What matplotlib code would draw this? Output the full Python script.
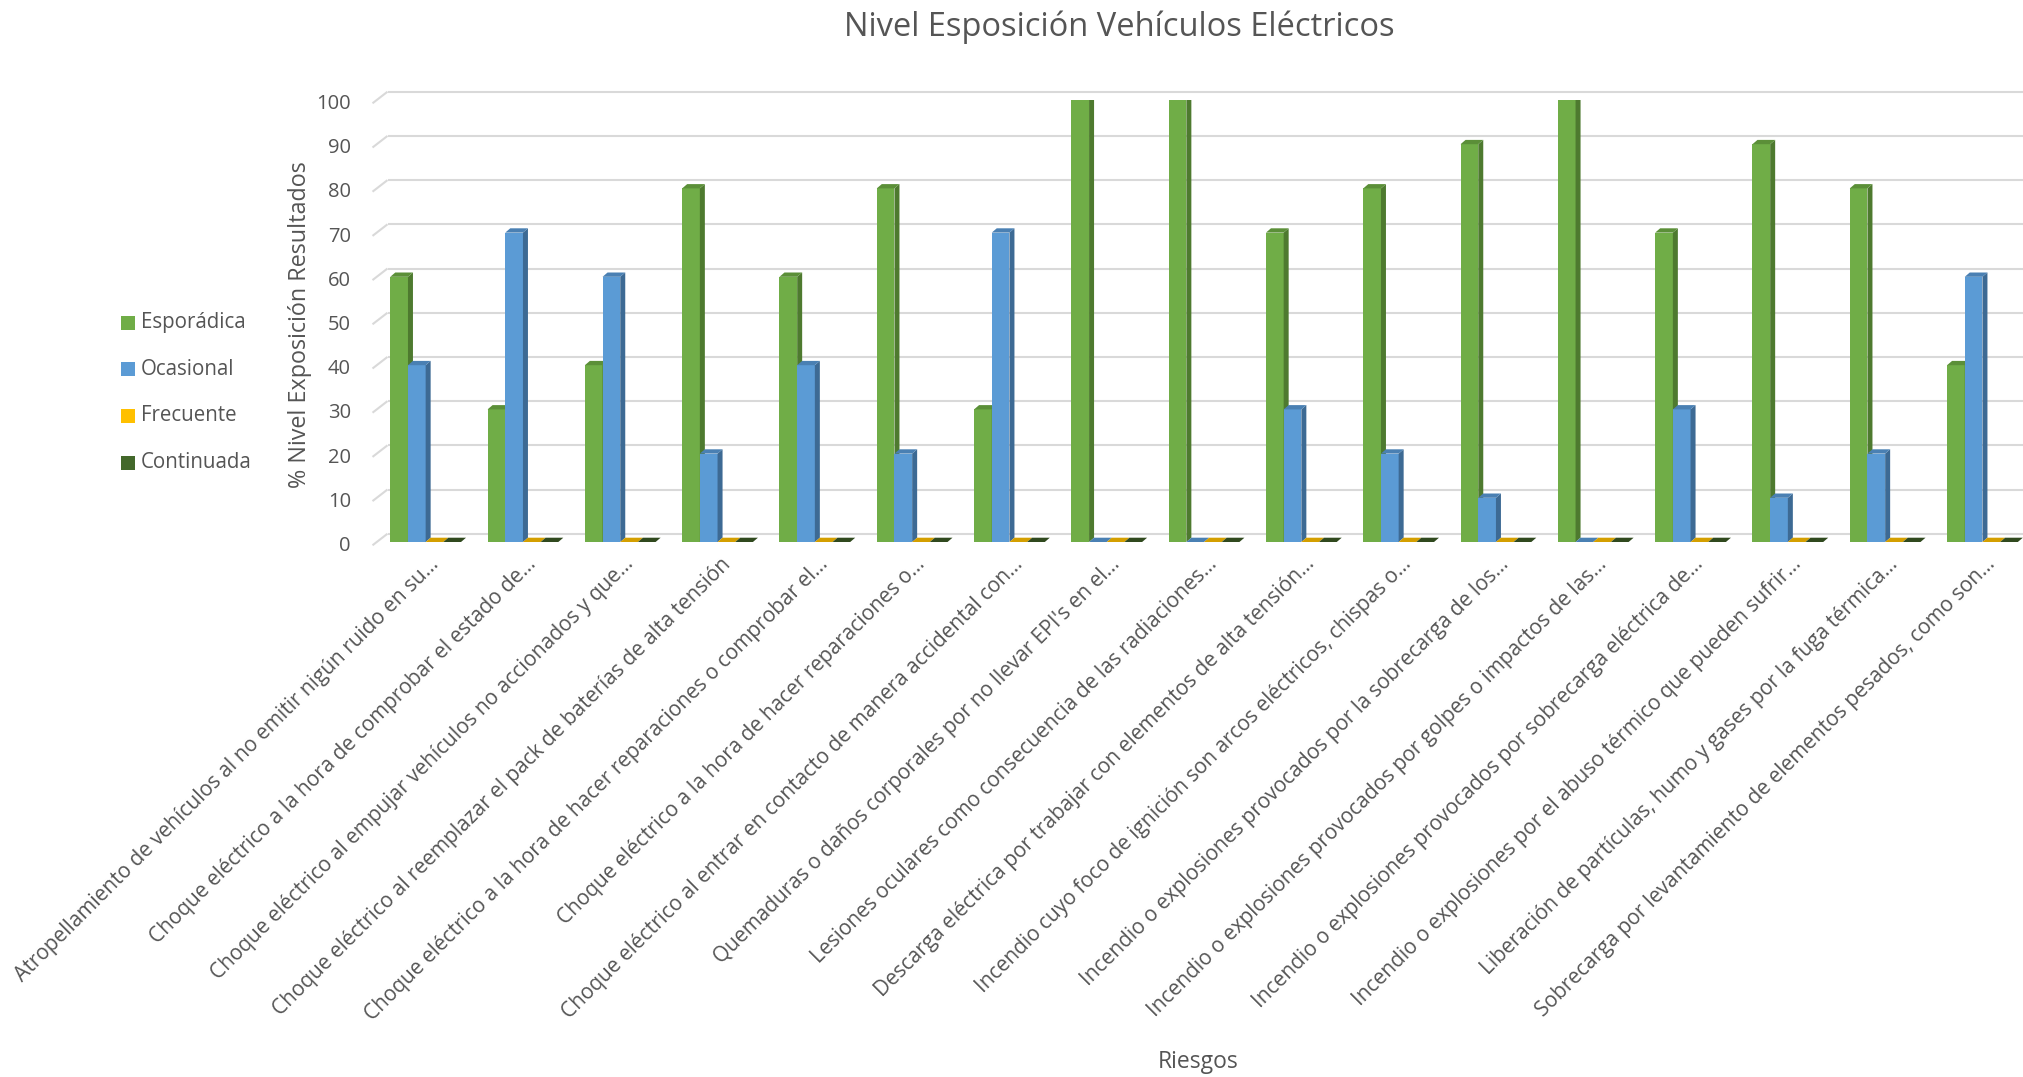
import matplotlib
matplotlib.use('Agg')
import matplotlib.pyplot as plt
from matplotlib.patches import Polygon, Rectangle
from matplotlib.transforms import ScaledTranslation

# Datos del gráfico
riesgos = [
    "Atropellamiento de vehículos al no emitir nigún ruido en su…",
    "Choque eléctrico a la hora de comprobar el estado de…",
    "Choque eléctrico al empujar vehículos no accionados y que…",
    "Choque eléctrico al reemplazar el pack de baterías de alta tensión",
    "Choque eléctrico a la hora de hacer reparaciones o comprobar el…",
    "Choque eléctrico a la hora de hacer reparaciones o…",
    "Choque eléctrico al entrar en contacto de manera accidental con…",
    "Quemaduras o daños corporales por no llevar EPI's en el…",
    "Lesiones oculares como consecuencia de las radiaciones…",
    "Descarga eléctrica por trabajar con elementos de alta tensión…",
    "Incendio cuyo foco de ignición son arcos eléctricos, chispas o…",
    "Incendio o explosiones provocados por la sobrecarga de los…",
    "Incendio o explosiones provocados por golpes o impactos de las…",
    "Incendio o explosiones provocados por sobrecarga eléctrica de…",
    "Incendio o explosiones por el abuso térmico que pueden sufrir…",
    "Liberación de partículas, humo y gases por la fuga térmica…",
    "Sobrecarga por levantamiento de elementos pesados, como son…",
]
series = ["Esporádica", "Ocasional", "Frecuente", "Continuada"]
esporadica = [60, 30, 40, 80, 60, 80, 30, 100, 100, 70, 80, 90, 100, 70, 90, 80, 40]
ocasional = [40, 70, 60, 20, 40, 20, 70, 0, 0, 30, 20, 10, 0, 30, 10, 20, 60]
frecuente = [0] * 17
continuada = [0] * 17
valores = [esporadica, ocasional, frecuente, continuada]
y_ticks = list(range(0, 101, 10))

# Colores: frente, lateral y cara superior de cada serie
FRONT = ['#70AD47', '#5B9BD5', '#FFC000', '#43682B']
SIDE = ['#4E7A2F', '#3D6A94', '#B38600', '#2E481D']
TOP = ['#5B8F38', '#4A80B3', '#D49F00', '#30491E']
GRID = '#D9D9D9'
TEXT = '#555555'
FONT = 'Open Sans'

DPI = 100
W, H = 2024, 1077
# plano frontal de las barras, en pixeles
AX_L, AX_T, AX_B = 377, 100, 542
PITCH = 97.3
n = len(riesgos)

fig = plt.figure(figsize=(W / DPI, H / DPI), dpi=DPI)
ax = fig.add_axes([AX_L / W, (H - AX_B) / H, n * PITCH / W, (AX_B - AX_T) / H])
ax.set_xlim(-0.5, n - 0.5)
ax.set_ylim(0, 100)
ax.axis('off')

px_x = PITCH                      # px por categoria
px_y = (AX_B - AX_T) / 100.0      # px por unidad

def dx(p):
    return p / px_x

def dy(p):
    return p / px_y

def offset(x_px, y_px):
    return ScaledTranslation(x_px / DPI, y_px / DPI, fig.dpi_scale_trans)

# Pared del fondo: lineas de cuadricula con el tramo inclinado del suelo
front_off = (-4.5, -3.3)
back_off = (10.5, 8.3)
for v in y_ticks:
    x0 = -0.5
    ax.plot([x0 + dx(front_off[0]), x0 + dx(back_off[0])],
            [v + dy(front_off[1]), v + dy(back_off[1])],
            color=GRID, lw=1.5, zorder=1, clip_on=False, solid_capstyle='butt')
    ax.plot([x0 + dx(back_off[0]), n + 1],
            [v + dy(back_off[1]), v + dy(back_off[1])],
            color=GRID, lw=1.5, zorder=1, clip_on=False, solid_capstyle='butt')
    ax.text(x0, v, str(v), ha='right', va='center', fontsize=14.5, color=TEXT,
            family=FONT, transform=ax.transData + offset(-26, -4))

# Barras 3D: cara frontal + lateral + superior
w = 1 / 5.5
bdx, bdy = dx(5.0), dy(4.3)
for j, vals in enumerate(valores):
    xs = [i - 1.5 * w + j * w for i in range(n)]
    ax.bar(xs, vals, width=w, color=FRONT[j], linewidth=0, zorder=2 + j)
    for x, h in zip(xs, vals):
        xl, xr = x - w / 2, x + w / 2
        if h > 0:
            ax.add_patch(Polygon([(xr, 0), (xr, h), (xr + bdx, h + bdy), (xr + bdx, bdy)],
                                 closed=True, facecolor=SIDE[j], lw=0, zorder=2 + j))
        ax.add_patch(Polygon([(xl, h), (xr, h), (xr + bdx, h + bdy), (xl + bdx, h + bdy)],
                             closed=True, facecolor=TOP[j], lw=0, zorder=2 + j))

# Etiquetas de categoria giradas
for i, lab in enumerate(riesgos):
    ax.text(i, 0, lab, rotation=45, rotation_mode='anchor', ha='right', va='center',
            fontsize=15, color=TEXT, family=FONT, transform=ax.transData + offset(10, -19))

# Titulos
fig.text(1119.5 / W, 1 - 36 / H, "Nivel Esposición Vehículos Eléctricos", ha='center',
         va='baseline', fontsize=23.5, color=TEXT, family=FONT)
fig.text(1198 / W, 1 - 1067.7 / H, "Riesgos", ha='center', va='baseline',
         fontsize=16.5, color=TEXT, family=FONT)
fig.text(300 / W, 1 - 324.6 / H, "% Nivel Exposición Resultados", rotation=90,
         ha='center', va='center', fontsize=16.8, color=TEXT, family=FONT)

# Leyenda a la izquierda
for k, (name, col) in enumerate(zip(series, FRONT)):
    yc = 322.5 + k * 46.7
    fig.add_artist(Rectangle((121 / W, 1 - (yc + 7) / H), 14 / W, 14 / H,
                             transform=fig.transFigure, facecolor=col, lw=0))
    fig.text(140.7 / W, 1 - yc / H, name, ha='left', va='center', fontsize=14.8,
             color=TEXT, family=FONT)

fig.savefig('out.png', dpi=DPI, facecolor='white')
